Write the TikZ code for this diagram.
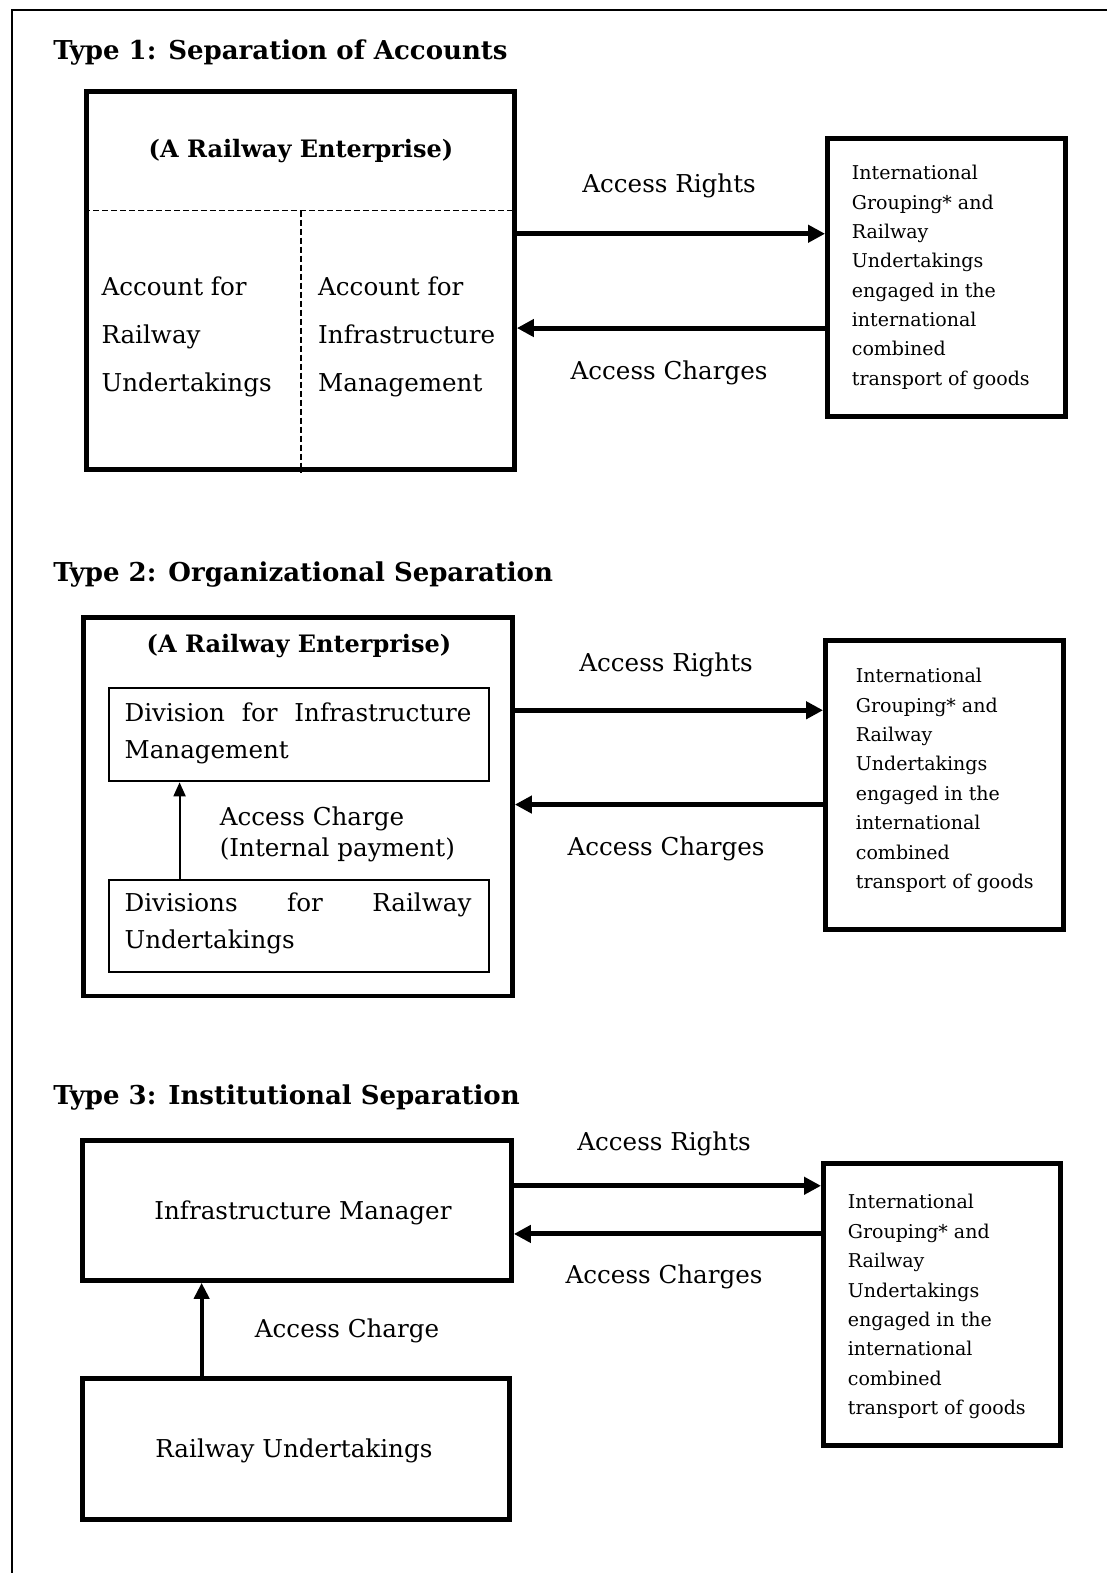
\documentclass[tikz,border=0pt]{standalone}
\usepackage{fontspec}
\setmainfont{DejaVu Serif}
\usetikzlibrary{arrows.meta}
\begin{document}
\begin{tikzpicture}[x=1.0036pt,y=-1.0036pt,
  thickbox/.style={draw,line width=5pt,inner sep=0pt},
  thinbox/.style={draw,line width=2pt,inner sep=0pt},
  txt/.style={inner sep=0pt,yshift=-3pt,font=\fontsize{24.6}{48}\selectfont},
  grp/.style={inner sep=0pt,yshift=-2pt,align=left,anchor=west,font=\fontsize{19}{29.4}\selectfont},
  ttl/.style={inner sep=0pt,anchor=west,yshift=-2pt,font=\fontsize{26}{30}\selectfont\bfseries},
  bigarrow/.style={line width=5pt,-{Triangle[length=17pt,width=17pt]}},
  thinarrow/.style={line width=2pt,-{Triangle[length=14pt,width=12pt]}},
  midarrow/.style={line width=4pt,-{Triangle[length=16pt,width=15pt]}}]
\useasboundingbox (0,0) rectangle (1103,1568);
% outer frame (top and left only visible)
\draw[line width=2pt] (12,1568) -- (12,10) -- (1103,10);

% ---------- Type 1 ----------
\node[ttl] (t1) at (53,50) {Type 1: Separation of Accounts};
\node[thickbox,minimum width=428pt,minimum height=378pt] (ent1) at (299.5,279.5) {};
\coordinate (d1) at (0,210);
\draw[line width=1.5pt,dash pattern=on 6pt off 3pt] (ent1.west |- d1) -- (ent1.east |- d1);
\coordinate (d1x) at (300,0);
\draw[line width=1.5pt,dash pattern=on 6pt off 3pt] (d1x |- d1) -- (d1x |- ent1.south);
\node[txt,font=\fontsize{24}{30}\selectfont\bfseries] (ent1t) at (300,148) {(A Railway Enterprise)};
\node[txt,align=left,anchor=west,font=\fontsize{24.6}{48}\selectfont] (acc1) at (101,333) {Account for\\Railway\\Undertakings};
\node[txt,align=left,anchor=west,font=\fontsize{24.6}{48}\selectfont] (acc2) at (317,333) {Account for\\Infrastructure\\Management};
\node[thickbox,minimum width=238pt,minimum height=278pt] (grp1) at (943.5,276.5) {};
\node[grp] (grp1t) at (849,274.5) {International\\Grouping* and\\Railway\\Undertakings\\engaged in the\\international\\combined\\transport of goods};
\coordinate (r1) at (0,233);
\coordinate (c1) at (0,327);
\draw[bigarrow] (ent1.east |- r1) -- (grp1.west |- r1);
\draw[bigarrow] (grp1.west |- c1) -- (ent1.east |- c1);
\node[txt] (ar1) at (667,182) {Access Rights};
\node[txt] (ac1) at (667,369) {Access Charges};

% ---------- Type 2 ----------
\node[ttl] (t2) at (53,571) {Type 2: Organizational Separation};
\node[thickbox,minimum width=429pt,minimum height=379pt] (ent2) at (297,804) {};
\node[txt,font=\fontsize{24}{30}\selectfont\bfseries] (ent2t) at (298,641) {(A Railway Enterprise)};
\node[thinbox,minimum width=380pt,minimum height=93pt] (inf2) at (298,732.5) {};
\node[txt,align=left,anchor=west,font=\fontsize{24.6}{37}\selectfont] (inf2t) at (124,728.5) {\makebox[347pt][s]{Division for Infrastructure}\\Management};
\node[thinbox,minimum width=380pt,minimum height=92pt] (rail2) at (298,923) {};
\node[txt,align=left,anchor=west,font=\fontsize{24.6}{37}\selectfont] (rail2t) at (124,917) {\makebox[347pt][s]{Divisions for Railway}\\Undertakings};
\coordinate (v2) at (179,0);
\draw[thinarrow] (v2 |- rail2.north) -- (v2 |- inf2.south);
\node[txt,align=left,anchor=west,font=\fontsize{24.6}{31}\selectfont] (ac2i) at (219,828.5) {Access Charge\\(Internal payment)};
\node[thickbox,minimum width=238pt,minimum height=290pt] (grp2) at (941.5,782.5) {};
\node[grp] (grp2t) at (853,776) {International\\Grouping* and\\Railway\\Undertakings\\engaged in the\\international\\combined\\transport of goods};
\coordinate (r2) at (0,708);
\coordinate (c2) at (0,802);
\draw[bigarrow] (ent2.east |- r2) -- (grp2.west |- r2);
\draw[bigarrow] (grp2.west |- c2) -- (ent2.east |- c2);
\node[txt] (ar2) at (664,660) {Access Rights};
\node[txt] (ac2) at (664,843) {Access Charges};

% ---------- Type 3 ----------
\node[ttl] (t3) at (53,1092) {Type 3: Institutional Separation};
\node[thickbox,minimum width=429pt,minimum height=140pt] (im3) at (296,1206.5) {};
\node[txt] (im3t) at (302,1206) {Infrastructure Manager};
\node[thickbox,minimum width=427pt,minimum height=141pt] (ru3) at (295,1444) {};
\node[txt] (ru3t) at (293,1443) {Railway Undertakings};
\coordinate (v3) at (201,0);
\draw[midarrow] (v3 |- ru3.north) -- (v3 |- im3.south);
\node[txt] (ac3i) at (346,1324) {Access Charge};
\node[thickbox,minimum width=237pt,minimum height=282pt] (grp3) at (939,1300.5) {};
\node[grp] (grp3t) at (845,1300.5) {International\\Grouping* and\\Railway\\Undertakings\\engaged in the\\international\\combined\\transport of goods};
\coordinate (r3) at (0,1182);
\coordinate (c3) at (0,1230);
\draw[bigarrow] (im3.east |- r3) -- (grp3.west |- r3);
\draw[bigarrow] (grp3.west |- c3) -- (im3.east |- c3);
\node[txt] (ar3) at (662,1137) {Access Rights};
\node[txt] (ac3) at (662,1270) {Access Charges};
\end{tikzpicture}
\end{document}
